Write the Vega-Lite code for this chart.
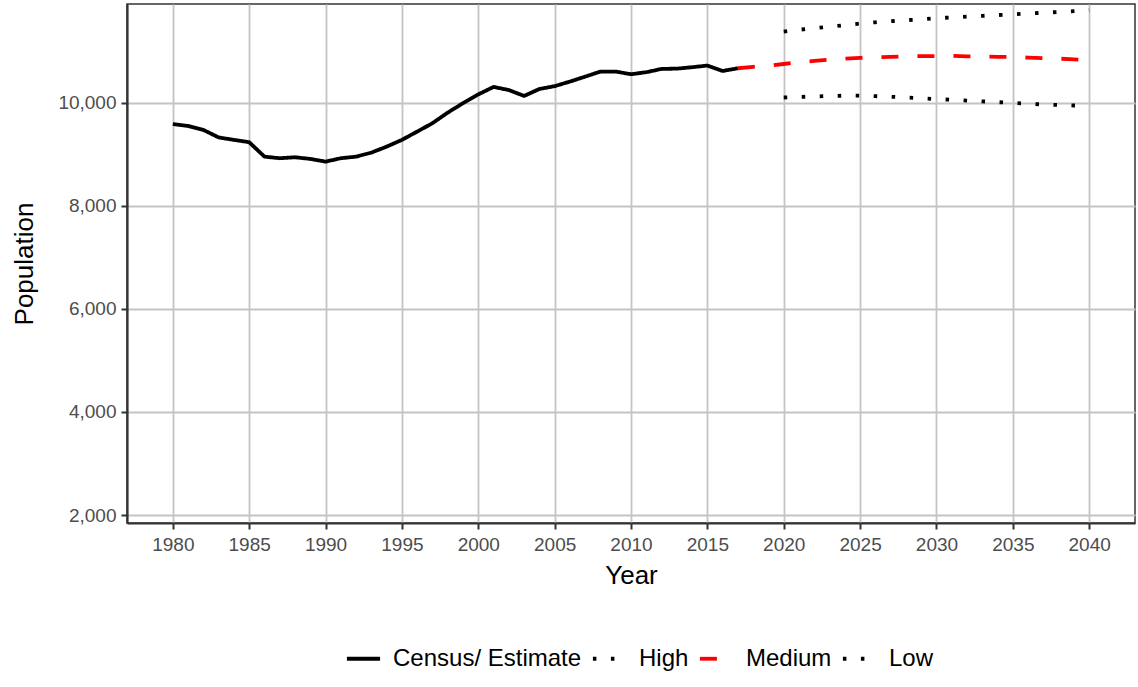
{
  "$schema": "https://vega.github.io/schema/vega-lite/v6.json",
  "width": 1008,
  "height": 519,
  "autosize": {"type": "none"},
  "padding": {"left": 127, "top": 4, "right": 3, "bottom": 164},
  "background": "white",
  "config": {
    "font": "Liberation Sans",
    "view": {"stroke": "#333333", "strokeWidth": 1.5},
    "axis": {
      "gridColor": "#c4c4c4",
      "gridWidth": 1.8,
      "domainColor": "#333333",
      "domainWidth": 2.2,
      "tickColor": "#333333",
      "tickWidth": 2,
      "tickSize": 6,
      "labelColor": "#4d4d4d",
      "labelFont": "Liberation Sans",
      "labelFontSize": 19,
      "titleFont": "Liberation Sans",
      "titleFontSize": 26,
      "titleFontWeight": "normal",
      "titleColor": "#000000"
    }
  },
  "data": {
    "values": [
      {"year": 1980, "pop": 9590, "series": "Census/ Estimate"},
      {"year": 1981, "pop": 9553, "series": "Census/ Estimate"},
      {"year": 1982, "pop": 9476, "series": "Census/ Estimate"},
      {"year": 1983, "pop": 9330, "series": "Census/ Estimate"},
      {"year": 1984, "pop": 9282, "series": "Census/ Estimate"},
      {"year": 1985, "pop": 9237, "series": "Census/ Estimate"},
      {"year": 1986, "pop": 8957, "series": "Census/ Estimate"},
      {"year": 1987, "pop": 8926, "series": "Census/ Estimate"},
      {"year": 1988, "pop": 8945, "series": "Census/ Estimate"},
      {"year": 1989, "pop": 8913, "series": "Census/ Estimate"},
      {"year": 1990, "pop": 8860, "series": "Census/ Estimate"},
      {"year": 1991, "pop": 8926, "series": "Census/ Estimate"},
      {"year": 1992, "pop": 8957, "series": "Census/ Estimate"},
      {"year": 1993, "pop": 9035, "series": "Census/ Estimate"},
      {"year": 1994, "pop": 9151, "series": "Census/ Estimate"},
      {"year": 1995, "pop": 9282, "series": "Census/ Estimate"},
      {"year": 1996, "pop": 9443, "series": "Census/ Estimate"},
      {"year": 1997, "pop": 9606, "series": "Census/ Estimate"},
      {"year": 1998, "pop": 9812, "series": "Census/ Estimate"},
      {"year": 1999, "pop": 9994, "series": "Census/ Estimate"},
      {"year": 2000, "pop": 10165, "series": "Census/ Estimate"},
      {"year": 2001, "pop": 10310, "series": "Census/ Estimate"},
      {"year": 2002, "pop": 10250, "series": "Census/ Estimate"},
      {"year": 2003, "pop": 10135, "series": "Census/ Estimate"},
      {"year": 2004, "pop": 10270, "series": "Census/ Estimate"},
      {"year": 2005, "pop": 10325, "series": "Census/ Estimate"},
      {"year": 2006, "pop": 10414, "series": "Census/ Estimate"},
      {"year": 2007, "pop": 10510, "series": "Census/ Estimate"},
      {"year": 2008, "pop": 10608, "series": "Census/ Estimate"},
      {"year": 2009, "pop": 10608, "series": "Census/ Estimate"},
      {"year": 2010, "pop": 10557, "series": "Census/ Estimate"},
      {"year": 2011, "pop": 10596, "series": "Census/ Estimate"},
      {"year": 2012, "pop": 10660, "series": "Census/ Estimate"},
      {"year": 2013, "pop": 10665, "series": "Census/ Estimate"},
      {"year": 2014, "pop": 10693, "series": "Census/ Estimate"},
      {"year": 2015, "pop": 10725, "series": "Census/ Estimate"},
      {"year": 2016, "pop": 10620, "series": "Census/ Estimate"},
      {"year": 2017, "pop": 10673, "series": "Census/ Estimate"},
      {"year": 2020, "pop": 11385, "series": "High"},
      {"year": 2021, "pop": 11420, "series": "High"},
      {"year": 2022, "pop": 11450, "series": "High"},
      {"year": 2023, "pop": 11480, "series": "High"},
      {"year": 2024, "pop": 11510, "series": "High"},
      {"year": 2025, "pop": 11540, "series": "High"},
      {"year": 2026, "pop": 11565, "series": "High"},
      {"year": 2027, "pop": 11585, "series": "High"},
      {"year": 2028, "pop": 11605, "series": "High"},
      {"year": 2029, "pop": 11625, "series": "High"},
      {"year": 2030, "pop": 11645, "series": "High"},
      {"year": 2031, "pop": 11660, "series": "High"},
      {"year": 2032, "pop": 11675, "series": "High"},
      {"year": 2033, "pop": 11690, "series": "High"},
      {"year": 2034, "pop": 11705, "series": "High"},
      {"year": 2035, "pop": 11720, "series": "High"},
      {"year": 2036, "pop": 11735, "series": "High"},
      {"year": 2037, "pop": 11750, "series": "High"},
      {"year": 2038, "pop": 11765, "series": "High"},
      {"year": 2039, "pop": 11780, "series": "High"},
      {"year": 2040, "pop": 11800, "series": "High"},
      {"year": 2017, "pop": 10673, "series": "Medium"},
      {"year": 2018, "pop": 10700, "series": "Medium"},
      {"year": 2019, "pop": 10725, "series": "Medium"},
      {"year": 2020, "pop": 10755, "series": "Medium"},
      {"year": 2021, "pop": 10790, "series": "Medium"},
      {"year": 2022, "pop": 10815, "series": "Medium"},
      {"year": 2023, "pop": 10840, "series": "Medium"},
      {"year": 2024, "pop": 10860, "series": "Medium"},
      {"year": 2025, "pop": 10875, "series": "Medium"},
      {"year": 2026, "pop": 10885, "series": "Medium"},
      {"year": 2027, "pop": 10895, "series": "Medium"},
      {"year": 2028, "pop": 10905, "series": "Medium"},
      {"year": 2029, "pop": 10910, "series": "Medium"},
      {"year": 2030, "pop": 10910, "series": "Medium"},
      {"year": 2031, "pop": 10912, "series": "Medium"},
      {"year": 2032, "pop": 10905, "series": "Medium"},
      {"year": 2033, "pop": 10900, "series": "Medium"},
      {"year": 2034, "pop": 10895, "series": "Medium"},
      {"year": 2035, "pop": 10890, "series": "Medium"},
      {"year": 2036, "pop": 10880, "series": "Medium"},
      {"year": 2037, "pop": 10870, "series": "Medium"},
      {"year": 2038, "pop": 10860, "series": "Medium"},
      {"year": 2039, "pop": 10845, "series": "Medium"},
      {"year": 2040, "pop": 10830, "series": "Medium"},
      {"year": 2020, "pop": 10105, "series": "Low"},
      {"year": 2021, "pop": 10115, "series": "Low"},
      {"year": 2022, "pop": 10125, "series": "Low"},
      {"year": 2023, "pop": 10135, "series": "Low"},
      {"year": 2024, "pop": 10140, "series": "Low"},
      {"year": 2025, "pop": 10140, "series": "Low"},
      {"year": 2026, "pop": 10130, "series": "Low"},
      {"year": 2027, "pop": 10120, "series": "Low"},
      {"year": 2028, "pop": 10105, "series": "Low"},
      {"year": 2029, "pop": 10090, "series": "Low"},
      {"year": 2030, "pop": 10075, "series": "Low"},
      {"year": 2031, "pop": 10060, "series": "Low"},
      {"year": 2032, "pop": 10045, "series": "Low"},
      {"year": 2033, "pop": 10030, "series": "Low"},
      {"year": 2034, "pop": 10015, "series": "Low"},
      {"year": 2035, "pop": 10000, "series": "Low"},
      {"year": 2036, "pop": 9985, "series": "Low"},
      {"year": 2037, "pop": 9970, "series": "Low"},
      {"year": 2038, "pop": 9960, "series": "Low"},
      {"year": 2039, "pop": 9950, "series": "Low"},
      {"year": 2040, "pop": 9940, "series": "Low"}
    ]
  },
  "mark": {"type": "line", "strokeWidth": 3.8, "strokeCap": "butt", "strokeJoin": "round"},
  "encoding": {
    "x": {
      "field": "year", "type": "quantitative", "title": "Year",
      "scale": {"domain": [1977, 2043], "nice": false, "zero": false},
      "axis": {"values": [1980,1985,1990,1995,2000,2005,2010,2015,2020,2025,2030,2035,2040], "format": "d", "labelPadding": 6, "titlePadding": 8}
    },
    "y": {
      "field": "pop", "type": "quantitative", "title": "Population",
      "scale": {"domain": [1845, 11920], "nice": false, "zero": false},
      "axis": {"values": [2000, 4000, 6000, 8000, 10000], "format": ",d", "labelPadding": 5, "titlePadding": 20}
    },
    "color": {
      "field": "series", "type": "nominal",
      "scale": {"domain": ["Census/ Estimate", "High", "Medium", "Low"], "range": ["#000000", "#000000", "#ff0000", "#000000"]},
      "legend": {
        "title": null, "orient": "none", "direction": "horizontal",
        "legendX": 218, "legendY": 636,
        "symbolType": "stroke", "symbolSize": 1100, "symbolStrokeWidth": 3.8,
        "labelFontSize": 24, "labelFont": "Liberation Sans", "labelColor": "#000000", "labelLimit": 400,
        "columnPadding": 3, "labelOffset": 11
      }
    },
    "strokeDash": {
      "field": "series", "type": "nominal",
      "scale": {"domain": ["Census/ Estimate", "High", "Medium", "Low"], "range": [[1, 0], [3.5, 14.5], [17, 19], [3.5, 14.5]]},
      "legend": {
        "title": null, "orient": "none", "direction": "horizontal",
        "legendX": 218, "legendY": 636,
        "symbolType": "stroke", "symbolSize": 1100, "symbolStrokeWidth": 3.8,
        "labelFontSize": 24, "labelFont": "Liberation Sans", "labelColor": "#000000", "labelLimit": 400,
        "columnPadding": 3, "labelOffset": 11
      }
    }
  }
}
